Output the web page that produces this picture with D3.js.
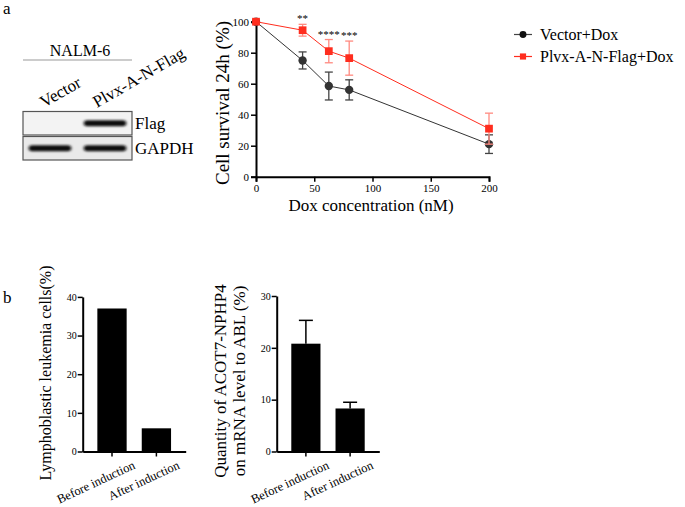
<!DOCTYPE html>
<html><head><meta charset="utf-8">
<script src="https://cdn.jsdelivr.net/npm/d3@7/dist/d3.min.js"></script>
<style>
body{margin:0;background:#fff;}
svg text{font-family:"Liberation Serif","Times New Roman",serif !important;fill:#000;}
</style></head>
<body><svg id="c" width="685" height="507"></svg>
<script>
// ---- data ----
const doses = [0, 40, 62.5, 80, 200];
const vectorMean = [100, 75, 58.5, 56, 21];
const vectorErr = [0, 5.5, 9, 6.5, 6];
const flagMean = [100, 94.5, 81, 76.5, 31];
const flagErr = [0, 3.8, 7.5, 11, 10];
const sigLabels = ["", "**", "****", "***", ""];
const seriesNames = ["Vector+Dox", "Plvx-A-N-Flag+Dox"];
const doseTicks = [0, 50, 100, 150, 200];
const survivalTicks = [0, 20, 40, 60, 80, 100];

const blotLanes = ["Vector", "Plvx-A-N-Flag"];
const blotRows = ["Flag", "GAPDH"];
const flagSignal = [0, 1];
const gapdhSignal = [1, 1];

const inductionCats = ["Before induction", "After induction"];
const leukemiaPct = [37, 6];
const leukemiaTicks = [0, 10, 20, 30, 40];
const fusionMean = [20.8, 8.3];
const fusionErr = [4.5, 1.2];
const fusionTicks = [0, 10, 20, 30];

const svg = d3.select("#c");
const SERIF = '"Liberation Serif","Times New Roman",serif';
const RED = "#ff2d1e", RED_LIGHT = "#ff8a80", BLK = "#111";

// panel labels
svg.append("text").attr("x", 3).attr("y", 14).attr("font-size", 17).text("a");
svg.append("text").attr("x", 3).attr("y", 303).attr("font-size", 17).text("b");

// ---- western blot ----
const defs = svg.append("defs");
defs.append("filter").attr("id", "blur").attr("x", "-20%").attr("y", "-100%").attr("width", "140%").attr("height", "300%")
  .append("feGaussianBlur").attr("stdDeviation", "1.6 1.1");
svg.append("text").attr("x", 80).attr("y", 56).attr("text-anchor", "middle").attr("font-size", 16).text("NALM-6");
svg.append("line").attr("x1", 23).attr("x2", 132).attr("y1", 60).attr("y2", 60).attr("stroke", "#999").attr("stroke-width", 1.2);
const laneX = d3.scaleBand().domain(blotLanes).range([23, 132]).paddingInner(0.12).paddingOuter(0.05);
const rowY = d3.scaleBand().domain(blotRows).range([111.5, 160]).paddingInner(0.06);
const laneLabelPos = [[44, 108], [97, 108]];
blotLanes.forEach((l, i) => {
  svg.append("text").attr("transform", `translate(${laneLabelPos[i][0]},${laneLabelPos[i][1]}) rotate(-30)`)
    .attr("font-size", 17).text(l);
});
blotRows.forEach((r, ri) => {
  const y0 = rowY(r), h = rowY.bandwidth();
  svg.append("rect").attr("x", 23).attr("y", y0).attr("width", 109).attr("height", h)
    .attr("fill", ri === 0 ? "#f3f3f3" : "#e9e9e9").attr("stroke", "#555").attr("stroke-width", 1.2);
  const sig = ri === 0 ? flagSignal : gapdhSignal;
  blotLanes.forEach((l, li) => {
    if (sig[li] > 0) {
      svg.append("rect").attr("x", laneX(l) + 3).attr("width", laneX.bandwidth() - 6)
        .attr("y", y0 + h / 2 - 3).attr("height", 6).attr("rx", 3)
        .attr("fill", "#111").attr("opacity", sig[li]).attr("filter", "url(#blur)");
    }
  });
  svg.append("text").attr("x", 135).attr("y", y0 + h / 2 + 6).attr("font-size", 17).text(r);
});

function styleAxis(g, fs) {
  g.attr("font-family", SERIF);
  g.select(".domain").attr("stroke", "#000").attr("stroke-width", 2);
  g.selectAll(".tick line").attr("stroke", "#000").attr("stroke-width", 1.5);
  g.selectAll(".tick text").attr("font-size", fs).style("font-family", SERIF).attr("fill", "#000");
}

// ---- line chart ----
const x = d3.scaleLinear().domain([0, 200]).range([256, 489]);
const y = d3.scaleLinear().domain([0, 100]).range([176.7, 21.7]);
const gx = svg.append("g").attr("transform", `translate(0,${y(0)})`)
  .call(d3.axisBottom(x).tickValues(doseTicks).tickSize(5).tickPadding(3));
const gy = svg.append("g").attr("transform", `translate(${x(0)},0)`)
  .call(d3.axisLeft(y).tickValues(survivalTicks).tickSize(5).tickPadding(2));
styleAxis(gx, 11); styleAxis(gy, 11);
svg.append("text").attr("x", 371).attr("y", 211).attr("text-anchor", "middle").attr("font-size", 17).text("Dox concentration (nM)");
svg.append("text").attr("transform", `translate(229,103) rotate(-90)`).attr("text-anchor", "middle").attr("font-size", 19).text("Cell survival 24h (%)");

function drawSeries(means, errs, color, errColor, shape) {
  const pts = doses.map((d, i) => ({ d, m: means[i], e: errs[i] }));
  svg.append("path").datum(pts).attr("fill", "none").attr("stroke", color).attr("stroke-width", 1)
    .attr("d", d3.line().x(p => x(p.d)).y(p => y(p.m)));
  const eg = svg.append("g").attr("stroke", errColor).attr("stroke-width", 1.3);
  pts.filter(p => p.e > 0).forEach(p => {
    const cx = x(p.d);
    eg.append("line").attr("x1", cx).attr("x2", cx).attr("y1", y(p.m + p.e)).attr("y2", y(p.m - p.e));
    eg.append("line").attr("x1", cx - 4).attr("x2", cx + 4).attr("y1", y(p.m + p.e)).attr("y2", y(p.m + p.e));
    eg.append("line").attr("x1", cx - 4).attr("x2", cx + 4).attr("y1", y(p.m - p.e)).attr("y2", y(p.m - p.e));
  });
  svg.append("g").selectAll("path").data(pts).join("path")
    .attr("transform", p => `translate(${x(p.d)},${y(p.m)})`)
    .attr("d", d3.symbol().type(shape).size(shape === d3.symbolSquare ? 60 : 55))
    .attr("fill", color);
}
drawSeries(vectorMean, vectorErr, "#333", "#444", d3.symbolCircle);
drawSeries(flagMean, flagErr, RED, RED_LIGHT, d3.symbolSquare);
doses.forEach((d, i) => {
  if (sigLabels[i]) svg.append("text").attr("x", x(d)).attr("y", y(flagMean[i] + flagErr[i]) - 2)
    .attr("text-anchor", "middle").attr("font-size", 11).text(sigLabels[i]);
});

// legend
const lg = svg.append("g");
[[BLK, d3.symbolCircle, "#444"], [RED, d3.symbolSquare, RED]].forEach((s, i) => {
  const ly = 34.5 + i * 22;
  lg.append("line").attr("x1", 514).attr("x2", 532).attr("y1", ly).attr("y2", ly).attr("stroke", s[2]).attr("stroke-width", 1.2);
  lg.append("path").attr("transform", `translate(523,${ly})`).attr("d", d3.symbol().type(s[1]).size(38)).attr("fill", s[0]);
  lg.append("text").attr("x", 540).attr("y", ly + 5).attr("font-size", 16).text(seriesNames[i]);
});

// ---- bar charts ----
function barChart(opts) {
  const bx = d3.scaleBand().domain(inductionCats).range(opts.xr).paddingInner(0.34).paddingOuter(0.33);
  const by = d3.scaleLinear().domain(opts.dom).range([451.5, opts.top]);
  const g = svg.append("g");
  g.selectAll("rect").data(opts.vals).join("rect")
    .attr("x", (v, i) => bx(inductionCats[i])).attr("width", bx.bandwidth())
    .attr("y", v => by(v)).attr("height", v => by(0) - by(v)).attr("fill", "#000");
  if (opts.errs) {
    opts.vals.forEach((v, i) => {
      const cx = bx(inductionCats[i]) + bx.bandwidth() / 2;
      g.append("line").attr("x1", cx).attr("x2", cx).attr("y1", by(v)).attr("y2", by(v + opts.errs[i])).attr("stroke", "#000").attr("stroke-width", 1.5);
      g.append("line").attr("x1", cx - 7).attr("x2", cx + 7).attr("y1", by(v + opts.errs[i])).attr("y2", by(v + opts.errs[i])).attr("stroke", "#000").attr("stroke-width", 1.5);
    });
  }
  const ax = g.append("g").attr("transform", `translate(0,${by(0)})`).call(d3.axisBottom(bx).tickSize(5).tickSizeOuter(0).tickFormat(""));
  const ay = g.append("g").attr("transform", `translate(${opts.xr[0]},0)`).call(d3.axisLeft(by).tickValues(opts.ticks).tickSize(5).tickSizeOuter(0).tickPadding(1));
  styleAxis(ax, 10); styleAxis(ay, 10);
  inductionCats.forEach(c => {
    const cx = bx(c) + bx.bandwidth() / 2;
    g.append("text").attr("transform", `translate(${cx + 24},${468}) rotate(-25)`)
      .attr("text-anchor", "end").attr("font-size", 12.5).text(c);
  });
}
barChart({ xr: [82.7, 185.7], dom: [0, 40], top: 296.9, vals: leukemiaPct, ticks: leukemiaTicks });
barChart({ xr: [276.7, 379.3], dom: [0, 30], top: 296, vals: fusionMean, errs: fusionErr, ticks: fusionTicks });

svg.append("text").attr("transform", "translate(51,373) rotate(-90)").attr("text-anchor", "middle").attr("font-size", 16)
  .text("Lymphoblastic leukemia cells(%)");
const lab2 = svg.append("text").attr("transform", "translate(226,381) rotate(-90)").attr("text-anchor", "middle").attr("font-size", 17);
lab2.append("tspan").attr("x", 0).attr("dy", 0).text("Quantity of ACOT7-NPHP4");
lab2.append("tspan").attr("x", 0).attr("dy", 19).text("on mRNA level to ABL (%)");
</script></body></html>
